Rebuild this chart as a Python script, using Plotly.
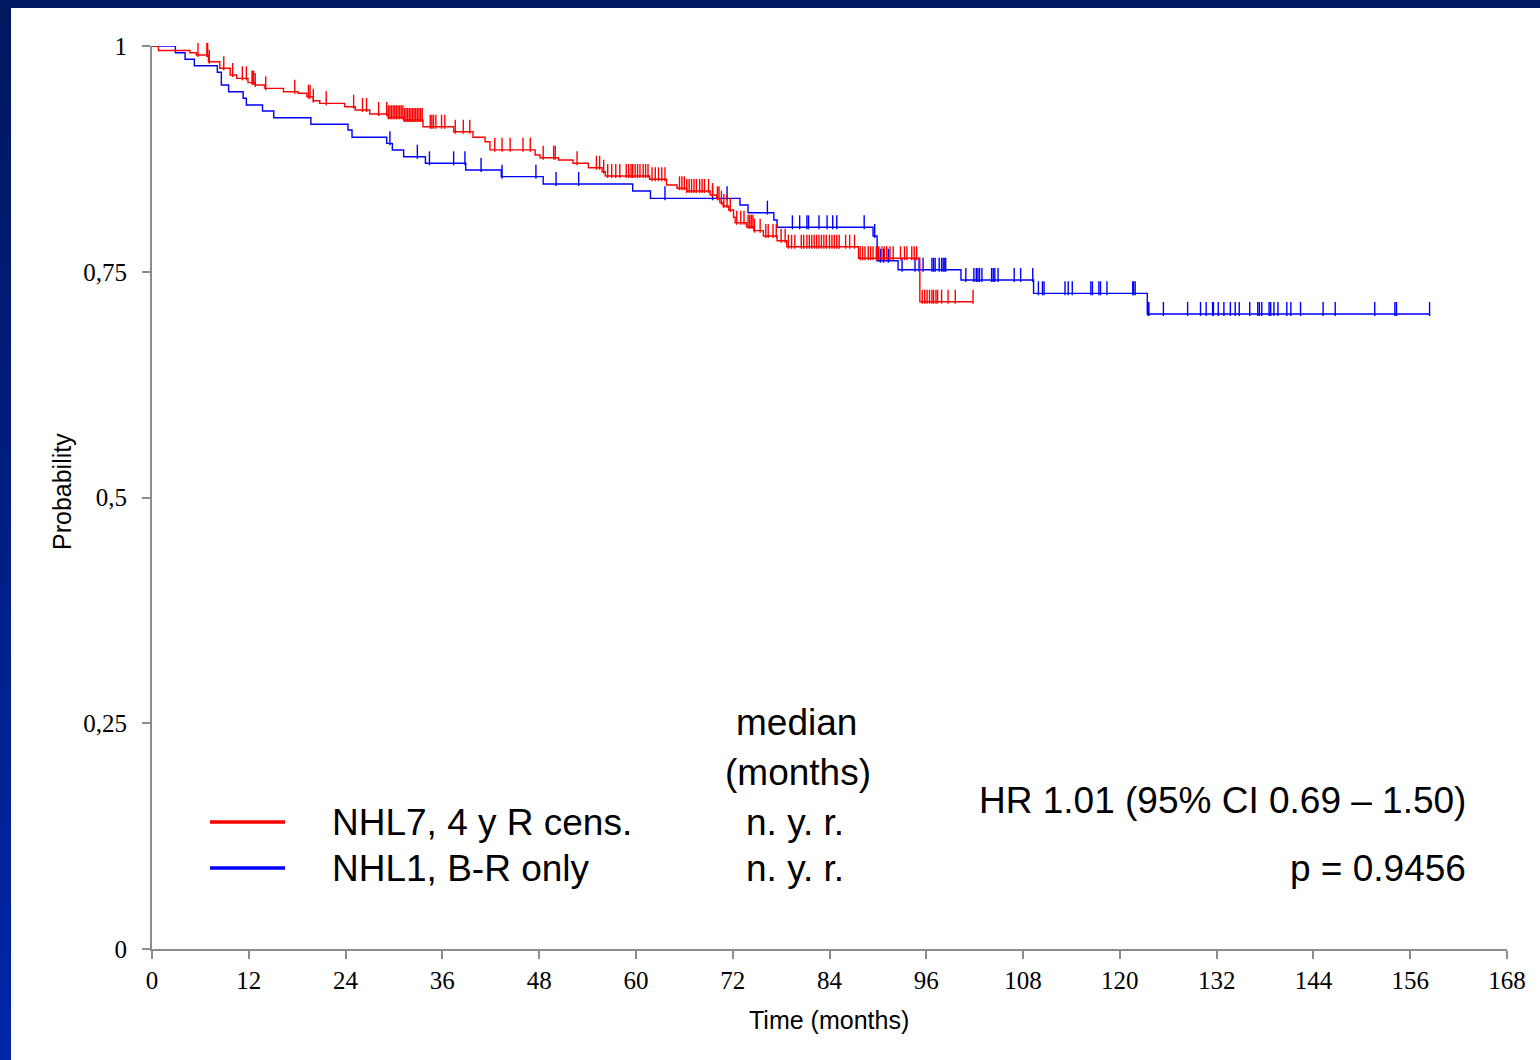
import numpy as np
import plotly.graph_objects as go

# ---------------- data ----------------
# NHL7, 4 y R cens. (red) : step times (months) and survival after each step
red_times = [0.8, 4.7, 5.5, 7.0, 8.4, 9.7, 10.5, 11.9, 12.8, 14.0, 16.3, 18.1, 19.2, 20.0,
             20.8, 23.9, 25.2, 27.0, 29.3, 31.2, 33.6, 37.4, 39.8, 41.3, 41.9, 47.5, 48.1,
             50.4, 52.2, 54.1, 55.8, 56.2, 61.7, 63.8, 65.1, 66.3, 69.2, 70.0, 70.4, 70.8,
             71.5, 72.1, 72.3, 73.7, 74.6, 75.8, 77.5, 78.7, 87.6, 95.2]
red_surv = [0.995, 0.9926, 0.990, 0.9826, 0.9753, 0.9679, 0.9642, 0.9594, 0.9568, 0.9531,
            0.9494, 0.9476, 0.9439, 0.9394, 0.9365, 0.9328, 0.9291, 0.9247, 0.9210, 0.9180,
            0.9106, 0.9051, 0.8989, 0.8940, 0.8850, 0.8793, 0.8763, 0.8738, 0.8701, 0.8652,
            0.8608, 0.8560, 0.8524, 0.8461, 0.8424, 0.8394, 0.8350, 0.8313, 0.8265, 0.8228,
            0.8184, 0.8103, 0.8043, 0.7999, 0.7955, 0.7896, 0.7844, 0.7777, 0.7649, 0.7168]
red_end = 101.8
red_censor = [0.1, 0.9, 1.2, 5.7, 6.8, 6.9, 7.1, 8.9, 10.0, 11.2, 11.7, 12.4, 12.5, 12.6, 12.8,
              14.1, 17.7, 19.4, 19.6, 20.0, 21.6, 25.0, 26.1, 26.6, 28.1,
              29.1, 29.3, 29.5, 29.7, 29.9, 30.1, 30.3, 30.5, 30.7, 30.9, 31.1, 31.3, 31.5,
              31.7, 31.9, 32.1, 32.3, 32.5, 32.7, 32.9, 33.1, 33.3, 33.5,
              34.5, 34.7, 34.9, 35.2, 35.9, 36.3, 37.6, 38.6, 39.4, 42.5, 43.4, 44.4, 46.0,
              46.9, 48.5, 49.8, 50.0, 52.7, 55.1, 55.5, 56.0, 56.5, 57.0, 57.5, 58.0, 58.8,
              59.1, 59.4, 59.6, 59.9, 60.2, 60.5, 60.9, 61.2, 61.5, 62.0, 62.4, 62.8, 63.2,
              63.6, 65.4, 65.7, 66.0, 66.3, 66.6, 66.9, 67.2, 67.5, 67.9, 68.2, 68.5, 69.0,
              69.5, 70.1, 70.3, 70.6, 70.9, 71.3, 71.7, 72.5, 73.0, 73.4, 73.9, 74.1, 74.3,
              74.5, 74.7, 75.4, 76.1, 76.4, 77.0, 77.4, 78.0, 78.5, 78.9, 79.3, 79.7,
              80.5, 80.8, 81.2, 81.5, 81.8, 82.1, 82.4, 82.7, 83.0, 83.3, 83.6, 84.0, 84.3,
              84.6, 84.9, 85.2, 86.0, 86.5, 87.1, 87.8, 88.1, 88.4, 88.8, 89.1, 89.4, 89.8,
              90.1, 90.5, 90.8, 91.1, 91.5, 91.9, 92.8, 93.3, 93.6, 94.2, 94.5, 94.8,
              95.5, 95.8, 96.1, 96.4, 96.7, 96.9, 97.2, 97.4, 97.9, 98.7, 99.6, 101.8]

# NHL1, B-R only (blue)
blue_times = [2.9, 4.1, 5.25, 8.1, 8.6, 9.5, 11.3, 11.7, 13.7, 15.1, 19.7, 24.3, 24.8, 29.1,
              29.8, 31.2, 33.9, 38.9, 43.3, 48.5, 59.6, 61.8, 72.9, 73.9, 77.1, 77.5, 89.4,
              89.9, 92.5, 100.3, 109.3, 123.4]
blue_surv = [0.9926, 0.9853, 0.9782, 0.9709, 0.9568, 0.9494, 0.9421, 0.9347, 0.9280, 0.9206,
             0.9133, 0.9070, 0.8989, 0.8922, 0.8848, 0.8774, 0.8701, 0.8627, 0.8553, 0.8472,
             0.8394, 0.8313, 0.8239, 0.8154, 0.8073, 0.7992, 0.7896, 0.7622, 0.7522, 0.7409,
             0.7261, 0.7032]
blue_end = 158.4
blue_censor = [0.9, 29.5, 32.9, 34.4, 37.4, 38.8, 40.8, 43.4, 47.6, 50.1, 52.9, 63.6, 69.5,
               71.3, 76.3, 79.4, 80.3, 81.2, 81.4, 82.7, 83.7, 84.4, 84.9, 88.3, 89.6, 90.3,
               90.7, 91.3, 93.0, 94.6, 95.1, 95.6, 96.7, 96.9, 97.1, 97.6, 97.9, 98.1, 98.3,
               98.4, 100.9, 101.9, 102.2, 102.4, 102.6, 102.9, 104.1, 104.3, 104.5, 104.9,
               106.9, 107.7, 109.2, 109.9, 110.4, 110.6, 113.2, 113.6, 114.1, 116.4, 116.6,
               117.4, 117.6, 118.4, 121.6, 121.7, 121.9, 123.5, 123.6, 125.4, 128.4, 130.0,
               130.7, 131.5, 131.6, 132.2, 132.9, 133.7, 134.3, 134.8, 136.1, 137.1, 137.3,
               137.6, 138.5, 138.7, 139.1, 139.6, 140.7, 141.2, 142.4, 145.2, 146.7, 151.6,
               154.1, 154.3, 158.4]

x_ticks = [0, 12, 24, 36, 48, 60, 72, 84, 96, 108, 120, 132, 144, 156, 168]
y_tickvals = [0, 0.25, 0.5, 0.75, 1]
y_ticktext = ["0", "0,25", "0,5", "0,75", "1"]

series_names = ["NHL7, 4 y R cens.", "NHL1, B-R only"]
medians = ["n. y. r.", "n. y. r."]
hr_text = "HR 1.01 (95% CI 0.69 \u2013 1.50)"
p_text = "p = 0.9456"

RED = "#ff0000"
BLUE = "#0000ff"

# ---------------- layout geometry ----------------
W, H = 1540, 1060
ML, MR, MT, MB = 152, 33, 46, 111
PW, PH = W - ML - MR, H - MT - MB


def px(xp):
    return (xp - ML) / PW


def py(yp):
    return (H - MB - yp) / PH


def step_xy(times, surv, end):
    xs = [0.0] + list(times) + [end]
    ys = [1.0] + list(surv) + [surv[-1]]
    return xs, ys


def surv_at(times, surv, pts):
    t = np.asarray(times)
    s = np.asarray(surv)
    idx = np.searchsorted(t, np.asarray(pts), side="right")
    return np.where(idx == 0, 1.0, s[np.maximum(idx - 1, 0)])


TICK_PX = 10
half = (TICK_PX / 2) / PH

fig = go.Figure()
for times, surv, end, cens, col in [
    (blue_times, blue_surv, blue_end, blue_censor, BLUE),
    (red_times, red_surv, red_end, red_censor, RED),
]:
    xs, ys = step_xy(times, surv, end)
    fig.add_trace(go.Scatter(x=xs, y=ys, mode="lines", line=dict(color=col, width=1.4, shape="hv"),
                             showlegend=False, hoverinfo="skip"))
    sc = surv_at(times, surv, cens)
    fig.add_trace(go.Scatter(x=cens, y=sc + half, mode="markers",
                             marker=dict(symbol="line-ns", size=TICK_PX, color=col,
                                         line=dict(color=col, width=1.4)),
                             cliponaxis=False, showlegend=False, hoverinfo="skip"))

shapes = []
# left border gradient
nseg = 40
top_c = np.array([0, 24, 96])
bot_c = np.array([0, 38, 168])
for i in range(nseg):
    f = i / (nseg - 1)
    c = top_c + (bot_c - top_c) * f
    y0 = i * H / nseg
    y1 = (i + 1) * H / nseg + 1
    shapes.append(dict(type="rect", xref="paper", yref="paper", x0=px(0), x1=px(11),
                       y0=py(y1), y1=py(y0), line=dict(width=0),
                       fillcolor="rgb(%d,%d,%d)" % tuple(c.astype(int)), layer="above"))
shapes.append(dict(type="rect", xref="paper", yref="paper", x0=px(0), x1=px(W),
                   y0=py(8), y1=py(0), line=dict(width=0), fillcolor="rgb(0,24,96)", layer="above"))
# legend samples
for yy, col in [(822, RED), (868, BLUE)]:
    shapes.append(dict(type="line", xref="paper", yref="paper", x0=px(210), x1=px(285),
                       y0=py(yy), y1=py(yy), line=dict(color=col, width=3.5)))

SANS = "Liberation Sans, Arial, sans-serif"
SERIF = "Liberation Serif, Times New Roman, serif"
LF = dict(family=SANS, size=37, color="black")
ann = []
ann.append(dict(x=px(330), y=py(822), text=series_names[0], xanchor="left", yanchor="middle", font=LF))
ann.append(dict(x=px(330), y=py(868), text=series_names[1], xanchor="left", yanchor="middle", font=LF))
ann.append(dict(x=px(796), y=py(722), text="median", xanchor="center", yanchor="middle", font=LF))
ann.append(dict(x=px(798), y=py(772), text="(months)", xanchor="center", yanchor="middle", font=LF))
ann.append(dict(x=px(795), y=py(822), text=medians[0], xanchor="center", yanchor="middle", font=LF))
ann.append(dict(x=px(795), y=py(868), text=medians[1], xanchor="center", yanchor="middle", font=LF))
ann.append(dict(x=px(1468), y=py(800), text=hr_text, xanchor="right", yanchor="middle", font=LF))
ann.append(dict(x=px(1468), y=py(868), text=p_text, xanchor="right", yanchor="middle", font=LF))
ann.append(dict(x=px(829), y=py(1020), text="Time (months)", xanchor="center", yanchor="middle",
                font=dict(family=SANS, size=25, color="black")))
ann.append(dict(x=px(62), y=py(492), text="Probability", textangle=-90, xanchor="center",
                yanchor="middle", font=dict(family=SANS, size=25, color="black")))
for a in ann:
    a.update(xref="paper", yref="paper", showarrow=False)

AX = "#8c8c8c"
fig.update_layout(
    width=W, height=H,
    margin=dict(l=ML, r=MR, t=MT, b=MB, pad=0),
    paper_bgcolor="white", plot_bgcolor="white",
    shapes=shapes, annotations=ann, showlegend=False,
    xaxis=dict(range=[0, 168], tickvals=x_ticks, ticktext=[str(v) for v in x_ticks],
               showline=True, linecolor=AX, linewidth=2, ticks="outside", ticklen=8,
               tickwidth=2, tickcolor=AX, showgrid=False, zeroline=False,
               tickfont=dict(family=SERIF, size=25, color="black"), ticklabelstandoff=0),
    yaxis=dict(range=[0, 1], tickvals=y_tickvals, ticktext=y_ticktext,
               showline=True, linecolor=AX, linewidth=2, ticks="outside", ticklen=8,
               tickwidth=2, tickcolor=AX, showgrid=False, zeroline=False,
               tickfont=dict(family=SERIF, size=25, color="black"), ticklabelstandoff=10),
)

fig.write_html("out.html", config={"displayModeBar": False},
               post_script="document.body.style.margin='0';document.body.style.overflow='hidden';")
